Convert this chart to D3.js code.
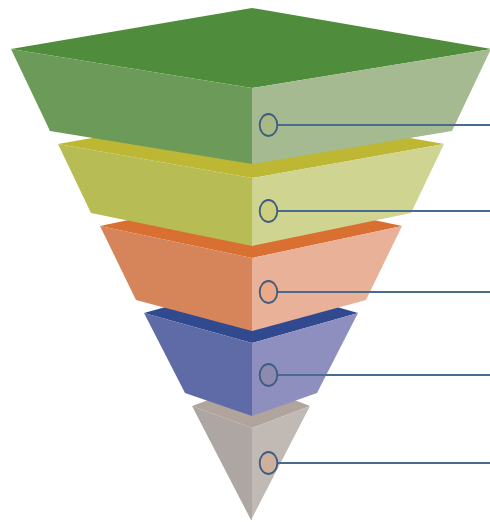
<!DOCTYPE html>
<html>
<head>
<meta charset="utf-8">
<script src="https://cdnjs.cloudflare.com/ajax/libs/d3/7.8.5/d3.min.js"></script>
<style>html,body{margin:0;padding:0;background:#fff}svg{display:block}</style>
</head>
<body>
<div id="chart"></div>
<script>
// Inverted pyramid tiers, widest at the top. Depths and half-widths are in the funnel's own units.
const tiers = ["Tier 1", "Tier 2", "Tier 3", "Tier 4", "Tier 5"];
const rimHalfWidth = [240, 193, 151, 107, 59];
const baseHalfWidth = [201, 160, 115, 66, 0];
const rimBackDepth = [8, 110, 194, 283, 384];
const rimSideDepth = [49, 144, 226, 313, 406];
const rimFrontDepth = [88, 178, 258, 343, 428];
const baseSideDepth = [131, 213, 300, 393, 520];
const baseFrontDepth = [164, 246, 331, 416, 520];
const calloutDepth = [125, 211, 292, 375, 463];

const topColors = ["#4f8d3c", "#bdb734", "#d96f30", "#31498f", "#b0a49d"];
const leftColors = ["#6c9a59", "#b8bc54", "#d6845a", "#5f6ba7", "#aea6a2"];
const rightColors = ["#a5ba90", "#cfd491", "#e8b198", "#8e8ebf", "#c0b9b4"];
const ringFills = ["#a9b985", "#cdd07f", "#eba987", "#8d8ab0", "#cfb09c"];

const width = 490, height = 522;
const svg = d3.select("#chart").append("svg").attr("width", width).attr("height", height);

const x = d3.scaleLinear().domain([-240, 240]).range([11, 491]);
const y = d3.scaleLinear().domain([0, height]).range([0, height]);
const outline = d3.line().x(p => x(p[0])).y(p => y(p[1])).curve(d3.curveLinearClosed);
const frontX = 1; // front edge sits just right of the centre axis

// Lower tiers go first so each upper tier overlaps the back of the one below it.
const order = d3.range(tiers.length).reverse();
const tier = svg.selectAll("g.tier").data(order).join("g").attr("class", "tier");

tier.append("path")
  .attr("fill", i => topColors[i])
  .attr("d", i => outline([
    [frontX, rimBackDepth[i]], [rimHalfWidth[i], rimSideDepth[i]],
    [frontX, rimFrontDepth[i]], [-rimHalfWidth[i], rimSideDepth[i]]
  ]));

tier.append("path")
  .attr("fill", i => leftColors[i])
  .attr("d", i => outline([
    [-rimHalfWidth[i], rimSideDepth[i]], [frontX, rimFrontDepth[i]],
    [frontX, baseFrontDepth[i]], [-baseHalfWidth[i], baseSideDepth[i]]
  ]));

tier.append("path")
  .attr("fill", i => rightColors[i])
  .attr("d", i => outline([
    [rimHalfWidth[i], rimSideDepth[i]], [frontX, rimFrontDepth[i]],
    [frontX, baseFrontDepth[i]], [baseHalfWidth[i], baseSideDepth[i]]
  ]));

// Callout leaders run from a small ring on the front face to the right edge.
const ringX = 17.5;
const callout = svg.selectAll("g.callout").data(d3.range(tiers.length)).join("g").attr("class", "callout");

callout.append("line")
  .attr("x1", x(ringX + 9)).attr("x2", width)
  .attr("y1", i => y(calloutDepth[i])).attr("y2", i => y(calloutDepth[i]))
  .attr("stroke", "#4a6b90").attr("stroke-width", 2);

callout.append("ellipse")
  .attr("cx", x(ringX)).attr("cy", i => y(calloutDepth[i]))
  .attr("rx", 8.8).attr("ry", 11)
  .attr("fill", i => ringFills[i])
  .attr("stroke", "#3d5c7e").attr("stroke-width", 1.8);
</script>
</body>
</html>
